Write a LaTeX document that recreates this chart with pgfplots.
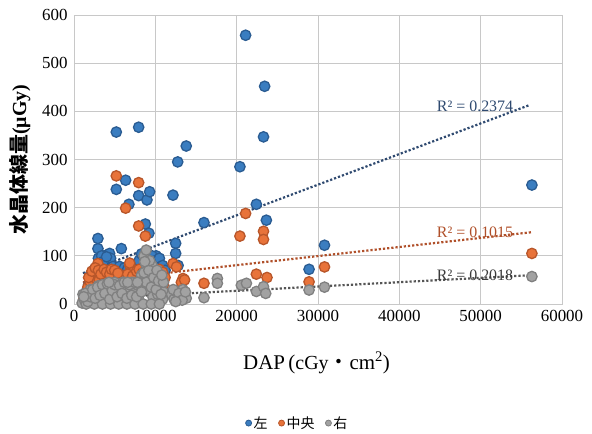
\documentclass[border=0pt]{standalone}
\usepackage{fontspec}
\setmainfont{Liberation Serif}
\newfontfamily\cjk{Noto Sans CJK JP}
\usepackage{pgfplots}
\pgfplotsset{compat=1.18}
\definecolor{cblue}{HTML}{3A7DC0}
\definecolor{eblue}{HTML}{2A5C92}
\definecolor{corange}{HTML}{E8733A}
\definecolor{eorange}{HTML}{B8562A}
\definecolor{cgray}{HTML}{A2A2A2}
\definecolor{egray}{HTML}{808080}
\definecolor{tblue}{HTML}{2F4A70}
\definecolor{torange}{HTML}{B0502A}
\definecolor{tgray}{HTML}{555555}
\definecolor{gridc}{HTML}{C8C8C8}
\begin{document}
\begin{tikzpicture}
\begin{axis}[
  scale only axis, width=488bp, height=289bp,
  xmin=0, xmax=60000, ymin=0, ymax=600,
  xtick={0,10000,...,60000}, ytick={0,100,...,600},
  scaled x ticks=false,
  /pgf/number format/assume math mode=true,
  xticklabel={\pgfmathprintnumber[fixed,precision=0,1000 sep={}]{\tick}},
  tick label style={font=\fontsize{17}{20}\selectfont},
  major tick length=0pt,
  xticklabel style={yshift=-3bp},
  yticklabel style={xshift=-3bp},
  grid=major, grid style={gridc, line width=0.8bp},
  axis line style={gridc, line width=0.8bp},
  xlabel={DAP\,({\fontsize{20}{24}\selectfont cGy}{\cjk ・}cm\textsuperscript{2})},
  xlabel style={font=\fontsize{21}{24}\selectfont, at={(axis description cs:0.497,-0.204)}, anchor=center},
  ylabel={{\cjk\bfseries 水晶体線量}(μGy)},
  ylabel style={font=\fontsize{20}{24}\selectfont\bfseries, at={(axis description cs:-0.111,0.5)}, anchor=center, rotate=0},
  legend columns=3,
  legend style={draw=none, fill=none, font=\cjk\fontsize{14}{16}\selectfont, at={(axis description cs:0.458,-0.412)}, anchor=center, /tikz/every even column/.append style={column sep=9bp}},
  legend cell align=left,
  clip=false,
]
\addplot[only marks, mark=*, mark size=5.2bp, mark options={fill=cblue, draw=eblue, line width=1.3bp}, legend image post style={mark size=3bp, mark options={fill=cblue, draw=eblue, line width=0.8bp}}] coordinates {
(1200,10) (1500,25) (1800,40) (1900,56) (2000,30) (2200,55) (2400,45) (2600,70) (2800,60) (2940,115) (2940,136)
(3100,85) (3300,75) (3500,95) (3700,100) (3900,90) (4100,80) (4380,105) (4380,88) (4500,95) (4700,70) (5000,60)
(5200,357) (5200,238) (5500,75) (5820,115) (6000,65) (6350,257) (6750,207) (6900,75) (7200,70) (7500,60)
(7950,367) (7950,225) (8200,90) (8500,100) (8770,166) (8970,216) (9210,147) (9300,233) (9500,95) (9800,80)
(10100,100) (10400,88) (10700,70) (11000,60) (12170,226) (12500,126) (12500,105) (12750,295) (12800,80) (13800,328)
(15980,169) (20400,285) (21100,558) (22420,207) (23300,347) (23440,452) (23650,174) (28900,72) (30800,122) (56300,247)
(2000,60) (2500,72) (3000,95) (3400,100) (3600,88) (4000,98) (4800,78) (5300,72) (5600,78)
(6200,75) (6600,72) (7000,80) (7600,78) (8000,90) (8300,104) (8600,98) (9000,92) (9600,100) (10000,90)
(10500,95) (10900,80) (11200,70)
};
\addlegendentry{左}
\addplot[only marks, mark=*, mark size=5.2bp, mark options={fill=corange, draw=eorange, line width=1.3bp}, legend image post style={mark size=3bp, mark options={fill=corange, draw=eorange, line width=0.8bp}}] coordinates {
(1200,10) (1500,20) (1700,35) (2000,45) (2300,30) (2500,55) (2800,65) (2940,84) (3100,50) (3400,40)
(3600,60) (3900,70) (4200,55) (4500,45) (4800,65) (5200,266) (5100,40) (5500,60) (5800,35) (6100,55)
(6350,199) (6840,81) (7000,50) (7300,70) (7600,45) (7950,252) (7950,162) (8200,60) (8500,75) (8770,141)
(9000,55) (9300,65) (9600,45) (10000,60) (10300,70) (10600,50) (11000,40) (12170,84) (12600,77) (13400,53)
(13200,45) (13600,50) (15980,43) (20400,141) (21100,188) (22420,62) (23300,151) (23300,134) (23730,55) (28900,46) (30800,77)
(56300,105)
(1800,55) (2200,68) (2600,75) (3000,70) (3300,62) (3700,72) (4000,66) (4400,62) (4600,72) (5000,70)
(5400,64) (6600,62) (6850,85) (7200,58) (7700,68) (8000,72) (8400,64) (8800,70) (9200,66) (9800,68) (10200,62)
(10500,72) (10900,66) (11200,55)
};
\addlegendentry{中央}
\addplot[only marks, mark=*, mark size=5.2bp, mark options={fill=cgray, draw=egray, line width=1.3bp}, legend image post style={mark size=3bp, mark options={fill=cgray, draw=egray, line width=0.8bp}}] coordinates {
(1000,2) (1300,8) (1600,15) (1900,5) (2100,20) (2400,10) (2700,25) (3000,5) (3200,30) (3500,15)
(3800,35) (4100,8) (4400,25) (4700,40) (5000,12) (5300,30) (5600,5) (5900,42) (6200,20) (6500,35)
(6800,10) (7100,45) (7400,25) (7700,40) (8000,8) (8300,60) (8600,100) (8880,112) (8900,80) (9100,30)
(9400,50) (9700,15) (10000,40) (10300,20) (10600,35) (10900,10) (11000,25) (12000,20) (12300,10) (12600,25)
(13000,15) (13400,30) (13800,12) (1500,0) (2500,0) (3500,0) (4500,0) (5500,0) (6500,0) (7500,0)
(8500,0) (9500,0) (10500,0) (2000,30) (3000,38) (4000,42) (5000,45) (6000,45) (7000,42) (8000,45)
(9000,60) (10000,55) (9600,80) (15980,13) (17630,53) (17630,43) (20570,39) (21200,43) (22420,26) (23300,36)
(23570,22) (28900,29) (30800,35) (56300,57)
(1100,20) (1400,22) (1700,5) (2000,15) (2300,30) (2600,12) (2900,35) (3200,18) (3500,40) (3800,22)
(4100,42) (4400,10) (4700,28) (5000,40) (5300,15) (5600,38) (5900,22) (6200,45) (6500,12) (6800,40)
(7100,18) (7400,45) (7700,15) (8000,42) (8300,25) (8600,65) (8900,45) (9200,70) (9500,35) (9800,55)
(10100,30) (10400,48) (10700,20) (11000,45) (1200,15) (4300,45) (6600,45) (7800,45) (9300,90) (8700,88)
(10200,70) (10800,60) (12200,30) (12900,22) (13300,8) (12500,5) (13700,25)
};
\addlegendentry{右}
\addplot[forget plot, tblue, dotted, line width=2.2bp] coordinates {(1100,64) (56000,413)};
\addplot[forget plot, torange, dotted, line width=2.2bp] coordinates {(1100,45) (56250,149)};
\addplot[forget plot, tgray, dotted, line width=2.2bp] coordinates {(1100,10.5) (56440,60)};
\node[text=tblue, anchor=west, font=\fontsize{16}{18}\selectfont, inner sep=0pt] at (axis cs:44600,410) {R² = 0.2374};
\node[text=torange, anchor=west, font=\fontsize{16}{18}\selectfont, inner sep=0pt] at (axis cs:44600,149) {R² = 0.1015};
\node[text=tgray!70!black, anchor=west, font=\fontsize{16}{18}\selectfont, inner sep=0pt] at (axis cs:44600,60) {R² = 0.2018};
\end{axis}
\path[use as bounding box] (-74bp,-130bp) rectangle (518bp,304bp);
\end{tikzpicture}
\end{document}
